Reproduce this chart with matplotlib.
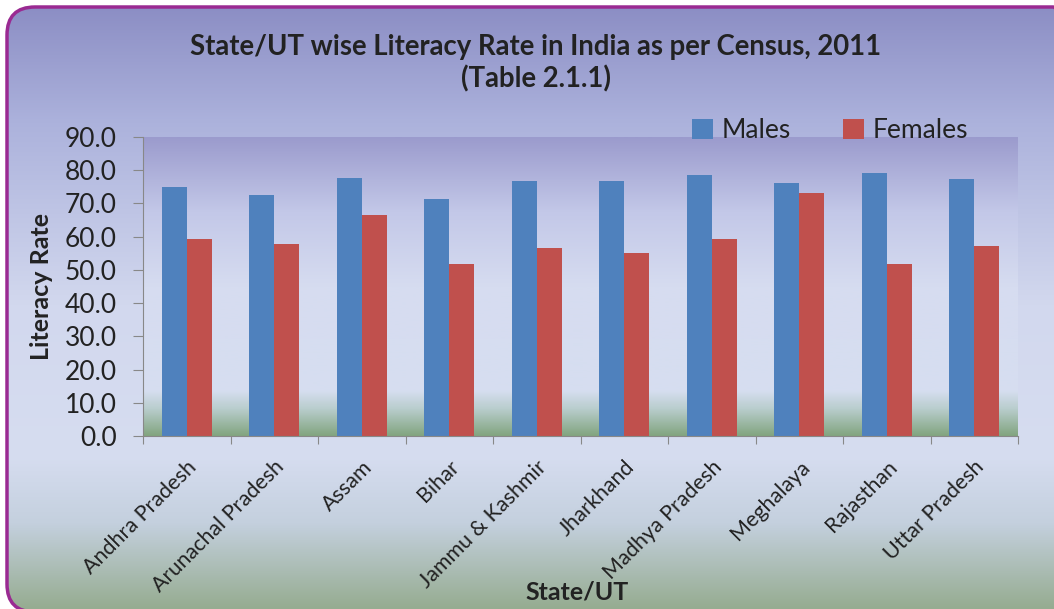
import matplotlib
matplotlib.use("Agg")
import matplotlib.pyplot as plt
import numpy as np
from matplotlib.patches import FancyBboxPatch
from matplotlib.colors import LinearSegmentedColormap

# data
states = ["Andhra Pradesh", "Arunachal Pradesh", "Assam", "Bihar", "Jammu & Kashmir",
          "Jharkhand", "Madhya Pradesh", "Meghalaya", "Rajasthan", "Uttar Pradesh"]
males = [74.8, 72.6, 77.7, 71.3, 76.9, 76.9, 78.5, 76.1, 79.3, 77.3]
females = [59.3, 57.7, 66.5, 51.7, 56.5, 55.2, 59.2, 73.0, 51.9, 57.2]
yticks = np.arange(0, 91, 10)

plt.rcParams['font.family'] = ['Lato', 'DejaVu Sans']

W, H = 1054, 609
fig = plt.figure(figsize=(W / 100, H / 100), dpi=100)
fig.patch.set_facecolor('white')

# figure background: rounded panel with vertical gradient
bg = fig.add_axes([0, 0, 1, 1], zorder=0)
bg.set_xlim(0, W)
bg.set_ylim(0, H)
bg.axis('off')
fig_cmap = LinearSegmentedColormap.from_list('figbg', [
    (0.0, (150/255, 172/255, 145/255)),
    (0.14, (196/255, 208/255, 222/255)),
    (0.25, (214/255, 221/255, 240/255)),
    (0.5, (210/255, 216/255, 238/255)),
    (0.8, (172/255, 178/255, 220/255)),
    (1.0, (138/255, 140/255, 195/255)),
])
grad = np.linspace(0, 1, 256).reshape(-1, 1)
img = bg.imshow(grad, cmap=fig_cmap, aspect='auto', extent=[0, W, 0, H],
                origin='lower', zorder=0)
panel = FancyBboxPatch((7, -3), W + 20, H - 4, boxstyle="round,pad=0,rounding_size=28",
                       facecolor='none', edgecolor='#9a2a92', linewidth=2.5, zorder=2)
bg.add_patch(panel)
img.set_clip_path(panel)

# plot area
ax = fig.add_axes([143 / W, 1 - 436 / H, (1018 - 143) / W, (436 - 137) / H], zorder=1)
ax.patch.set_alpha(0)
ax_cmap = LinearSegmentedColormap.from_list('axbg', [
    (0.0, (155/255, 155/255, 205/255)),
    (0.25, (195/255, 200/255, 232/255)),
    (0.5, (214/255, 220/255, 240/255)),
    (0.85, (214/255, 222/255, 240/255)),
    (0.91, (185/255, 205/255, 205/255)),
    (1.0, (130/255, 165/255, 128/255)),
])
x = np.arange(len(states))
ax.set_xlim(-0.5, len(states) - 0.5)
ax.set_ylim(0, 90)
ax.imshow(grad, cmap=ax_cmap, aspect='auto', extent=[-0.5, len(states) - 0.5, 0, 90],
          zorder=0)

bw = 0.285
ax.bar(x - bw / 2, males, bw, color='#4f81bd', label='Males', zorder=2)
ax.bar(x + bw / 2, females, bw, color='#c0504d', label='Females', zorder=2)

ax.set_yticks(yticks)
ax.set_yticklabels([f"{v:.1f}" for v in yticks], fontsize=19, color='#222222')
ax.set_xticks(np.arange(-0.5, len(states), 1), minor=False)
ax.set_xticklabels([])
ax.set_xticks(x, minor=True)
ax.set_xticklabels(states, minor=True, rotation=45, ha='right', rotation_mode='anchor',
                   fontsize=15.5, color='#222222')
ax.tick_params(axis='x', which='minor', length=0, pad=15)
ax.tick_params(axis='x', which='major', length=6, color='#888888', direction='out')
ax.tick_params(axis='y', length=7, color='#888888', pad=12)
for s in ['top', 'right']:
    ax.spines[s].set_visible(False)
ax.spines['left'].set_color('#888888')
ax.spines['bottom'].set_color('#888888')

ax.set_ylabel('Literacy Rate', fontsize=18, fontweight='bold', color='#222222', labelpad=8)
fig.text(577 / W, 1 - 592 / H, 'State/UT', ha='center', va='center', fontsize=18,
         fontweight='bold', color='#222222')

fig.text(536 / W, 1 - 47 / H, 'State/UT wise Literacy Rate in India as per Census, 2011',
         ha='center', va='center', fontsize=19.8, fontweight='bold', color='#222222')
fig.text(536 / W, 1 - 79 / H, '(Table 2.1.1)', ha='center', va='center', fontsize=19.8,
         fontweight='bold', color='#222222')

fig.legend(loc='center', bbox_to_anchor=(830 / W, 1 - 131 / H), ncol=2, frameon=False,
           fontsize=19, handlelength=0.8, handleheight=0.8, handletextpad=0.3,
           columnspacing=2.0, labelcolor='#222222')

fig.savefig('out.png', dpi=100)
